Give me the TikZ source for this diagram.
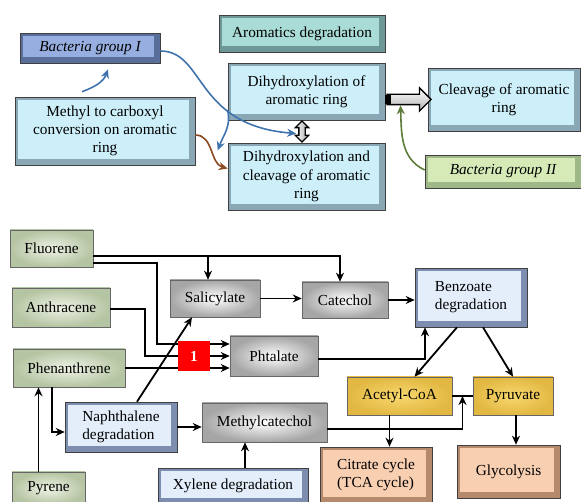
\documentclass[tikz,border=0pt]{standalone}
\usepackage{fontspec}
\setmainfont{Liberation Serif}
\usetikzlibrary{arrows.meta,calc,shapes.arrows}

\definecolor{bluedark}{HTML}{5A6E9A}
\definecolor{bluemid}{HTML}{97AEE0}
\definecolor{tealdark}{HTML}{6D9897}
\definecolor{teallight}{HTML}{A9DCD6}
\definecolor{cyandark}{HTML}{8AA7B5}
\definecolor{cyanlight}{HTML}{CDEFFA}
\definecolor{limedark}{HTML}{9FB888}
\definecolor{limelight}{HTML}{D6EAB8}
\definecolor{sagein}{HTML}{EEF3E6}
\definecolor{sageout}{HTML}{B5C4A2}
\definecolor{greyout}{HTML}{A6A6A6}
\definecolor{paledark}{HTML}{7D8DB0}
\definecolor{palelight}{HTML}{E4EEFB}
\definecolor{yellowin}{HTML}{F8D86E}
\definecolor{yellowout}{HTML}{E2B843}
\definecolor{salmondark}{HTML}{B58A6C}
\definecolor{salmonlight}{HTML}{F9CFB2}
\definecolor{arrowblue}{HTML}{3F73AE}
\definecolor{arrowbrown}{HTML}{8B4A1F}
\definecolor{arrowgreen}{HTML}{5E7D3A}

\newcommand{\boxfont}{\fontsize{15.3}{18.2}\selectfont}

\begin{document}
\begin{tikzpicture}[
    x=1pt, y=1pt,
    every node/.style={font=\boxfont, inner sep=1pt},
    bevel/.style 2 args={fill=#1, draw=black!75, line width=0.6pt, align=center,
        path picture={\fill[#2] ([shift={(3pt,-3pt)}]path picture bounding box.north west)
            rectangle ([shift={(-6pt,6pt)}]path picture bounding box.south east);}},
    glow/.style 2 args={draw=black!60, line width=0.6pt, inner color=#1, outer color=#2, align=center},
    conn/.style={draw, line width=1.8pt, -{Stealth[length=9pt,width=8pt]}},
    link/.style={draw, line width=1.8pt},
    bluearr/.style={draw=arrowblue, line width=1.6pt, -{Stealth[length=9pt,width=8pt]}},
    brownarr/.style={draw=arrowbrown, line width=1.6pt, -{Stealth[length=9pt,width=8pt]}},
    greenarr/.style={draw=arrowgreen, line width=1.6pt, -{Stealth[length=9pt,width=8pt]}},
    blockarr/.style={single arrow, draw, line width=1.3pt, inner sep=4.5pt, top color=white, bottom color=gray!60,
        minimum width=22pt, minimum height=44pt, single arrow head extend=6.5pt, single arrow head indent=0pt},
    dblarr/.style={double arrow, draw, line width=1.3pt, inner sep=2.5pt, shape border rotate=90,
        left color=white, right color=gray!70, minimum width=12pt, minimum height=21pt, double arrow head extend=3.5pt},
    redbox/.style={fill=red, text=white, font=\boxfont\bfseries, minimum width=32, minimum height=30}
]
\useasboundingbox (0,0) rectangle (581,502);

% upper scheme
\node[bevel={bluedark}{bluemid}, minimum width=140, minimum height=30, font=\boxfont\itshape] (bacI) at (90,454) {Bacteria group I};
\node[bevel={tealdark}{teallight}, minimum width=166, minimum height=37] (arom) at (302,468.5) {Aromatics degradation};
\node[bevel={cyandark}{cyanlight}, minimum width=157, minimum height=57] (dih1) at (306.5,410.5) {Dihydroxylation of\\aromatic ring};
\node[bevel={cyandark}{cyanlight}, minimum width=152, minimum height=63] (cleave) at (504,402.5) {Cleavage of aromatic\\ring};
\node[bevel={cyandark}{cyanlight}, minimum width=180, minimum height=68] (methyl) at (105,371) {Methyl to carboxyl\\conversion on aromatic\\ring};
\node[bevel={cyandark}{cyanlight}, minimum width=157, minimum height=67] (dih2) at (306.5,325.5) {Dihydroxylation and\\cleavage of aromatic\\ring};
\node[bevel={limedark}{limelight}, minimum width=156, minimum height=33, font=\boxfont\itshape] (bacII) at (503,330.5) {Bacteria group II};

\node[blockarr] (blk) at ($([yshift=-8pt]dih1.east)!0.5!([yshift=-8pt]dih1.east -| cleave.west)$) {};
\fill (blk.tail) ++(-1,-4.5) rectangle ++(6,9);
\node[dblarr] (dbl) at ($([xshift=-4.5pt]dih1.south)!0.5!([xshift=-4.5pt]dih1.south |- dih2.north)$) {};

\draw[bluearr] ([yshift=-3pt]bacI.east) .. controls +(45,0) and +(-102,8) .. ([shift={(-2,-2)}]dbl.west) coordinate[pos=0.68] (split);
\draw[bluearr] (split) to[out=-75,in=70] ([shift={(-10,26)}]dih2.west);
\draw[bluearr] ([shift={(-23,5)}]methyl.north) to[out=20,in=-110] ([shift={(18,-6)}]bacI.south);
\draw[brownarr] ([yshift=-4pt]methyl.east) to[out=0,in=165] ([yshift=8pt]dih2.west);
\draw[greenarr] ([yshift=1.5pt]bacII.west) to[out=155,in=-88] ([xshift=-6pt]blk.south);

% lower scheme
\node[glow={sagein}{sageout}, minimum width=83, minimum height=37] (fluor) at (51.5,253.5) {Fluorene};
\node[glow={sagein}{sageout}, minimum width=98, minimum height=39] (anthr) at (61,194.5) {Anthracene};
\node[glow={sagein}{sageout}, minimum width=112, minimum height=38] (phen) at (69,134) {Phenanthrene};
\node[glow={sagein}{sageout}, minimum width=73, minimum height=33] (pyr) at (48.5,13.5) {Pyrene};
\node[glow={white}{greyout}, minimum width=90, minimum height=37] (salic) at (215,203.5) {Salicylate};
\node[glow={white}{greyout}, minimum width=86, minimum height=36] (catech) at (345,202) {Catechol};
\node[glow={white}{greyout}, minimum width=88, minimum height=40] (phtal) at (274,146) {Phtalate};
\node[glow={white}{greyout}, minimum width=125, minimum height=39] (methc) at (264.5,79.5) {Methylcatechol};
\node[bevel={paledark}{palelight}, minimum width=112, minimum height=59, align=left] (benz) at (471,204.5) {Benzoate\\degradation};
\node[bevel={paledark}{palelight}, minimum width=112, minimum height=50, align=left] (naph) at (121,75) {Naphthalene\\degradation};
\node[bevel={paledark}{palelight}, minimum width=150, minimum height=36] (xyl) at (233,16) {Xylene degradation};
\node[glow={yellowin}{yellowout}, minimum width=105, minimum height=38] (acet) at (399.5,106) {Acetyl-CoA};
\node[glow={yellowin}{yellowout}, minimum width=80, minimum height=38] (pyru) at (513,106) {Pyruvate};
\node[bevel={salmondark}{salmonlight}, minimum width=112, minimum height=56, align=left] (citr) at (376,27) {Citrate cycle\\(TCA cycle)};
\node[bevel={salmondark}{salmonlight}, minimum width=103, minimum height=53] (glyc) at (508.5,30.5) {Glycolysis};

\draw[conn] ([yshift=-7.5pt]fluor.east) coordinate (ftop) -| ([xshift=-5pt]catech.north);
\draw[conn] ([xshift=-7pt]salic.north |- ftop) -- ([xshift=-7pt]salic.north);
\draw[conn] ([yshift=-14.5pt]fluor.east) -- ++(64,0) |- ([yshift=12pt]phtal.west);
\draw[conn] ([yshift=-1.5pt]anthr.east) -- ++(35,0) |- (phtal.west);
\draw[conn] (phen.east) -- (phen.east -| phtal.west);
\draw[conn] ([xshift=16pt]naph.north) -- ([xshift=-23pt]salic.south);
\draw[conn] ([xshift=-17pt]phen.south) |- ([yshift=-5pt]naph.west);
\draw[conn] ([xshift=-10pt]pyr.north) -- ([xshift=-10pt]pyr.north |- phen.south);
\draw[conn] (naph.east) -- (naph.east -| methc.west);
\draw[conn] ([xshift=12pt]xyl.north) -- ([xshift=12pt]xyl.north |- methc.south);
\draw[conn] (salic.east) -- (salic.east -| catech.west);
\draw[conn] (catech.east) -- (catech.east -| benz.west);
\draw[conn] ([yshift=-3pt]phtal.east) -| ([xshift=-46pt]benz.south);
\draw[conn] ([xshift=-14pt]benz.south) -- ([xshift=15pt]acet.north);
\draw[conn] ([xshift=12pt]benz.south) -- (pyru.north);
\draw[link] (acet.east) -- (pyru.west) coordinate[midway] (join);
\draw[conn] ([yshift=-6.5pt]methc.east) -| (join);
\draw[conn] ([xshift=-10pt]acet.south) -- ([xshift=-10pt]acet.south |- citr.north);
\draw[conn] ([xshift=3pt]pyru.south) -- ([xshift=3pt]pyru.south |- glyc.north);

\node[redbox] (mark) at (194,146) {1};
\end{tikzpicture}
\end{document}
